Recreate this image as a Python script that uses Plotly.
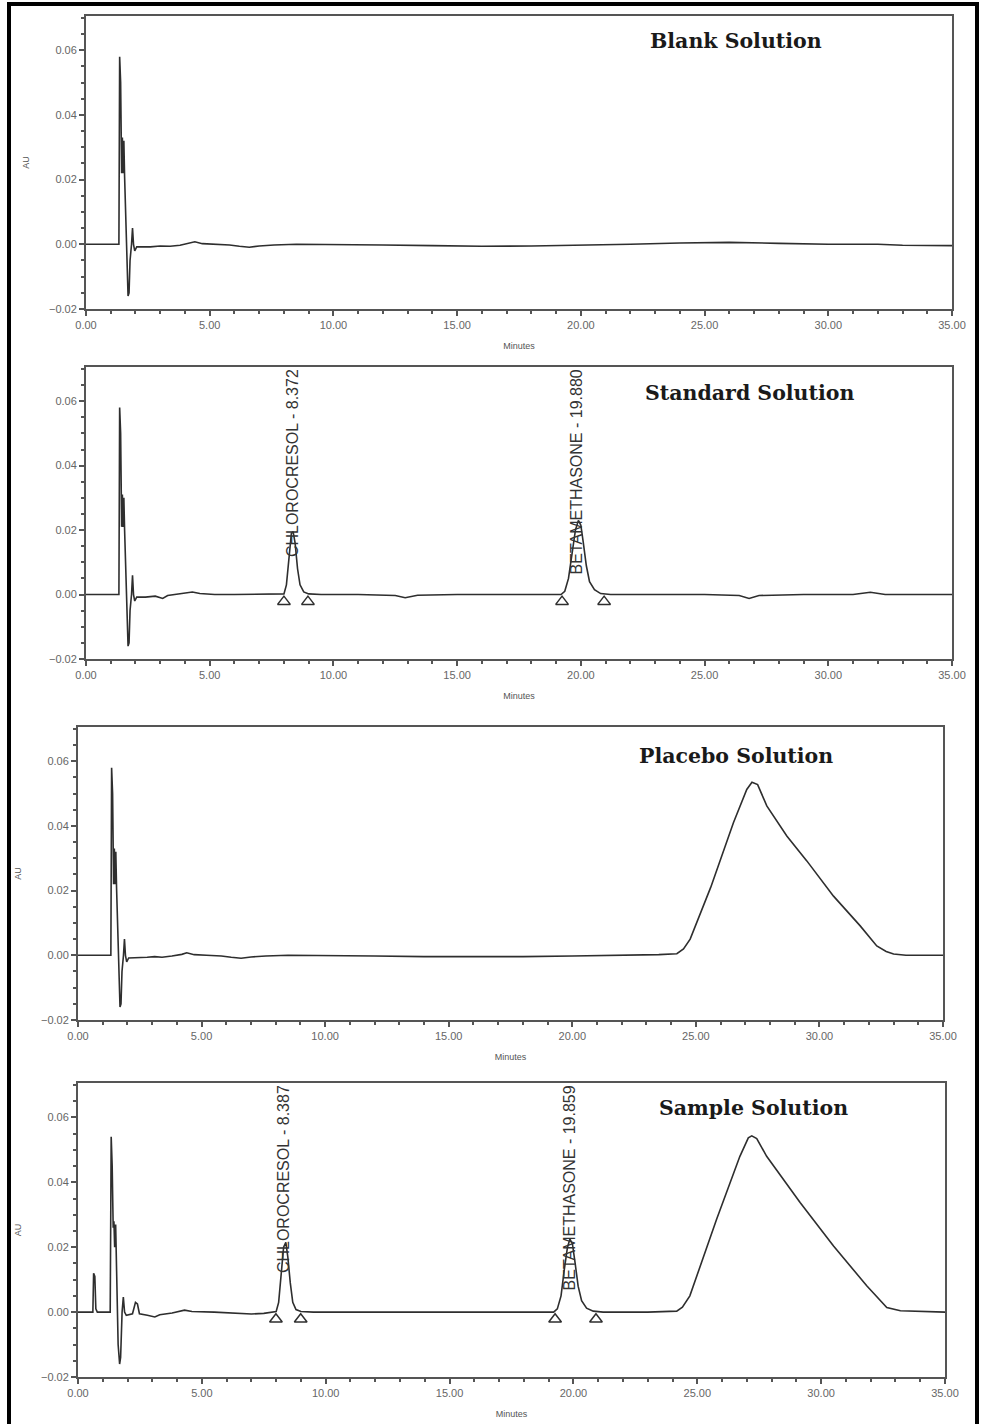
import plotly.graph_objects as go

# ---------------- data ----------------
panel_titles = ["Blank Solution", "Standard Solution", "Placebo Solution", "Sample Solution"]

# Blank solution chromatogram
blank_t = [0, 1.33, 1.36, 1.40, 1.44, 1.47, 1.50, 1.53, 1.56, 1.60, 1.66, 1.70, 1.74, 1.78, 1.84, 1.88,
           1.92, 1.97, 2.05, 2.3, 2.6, 3.0, 3.4, 3.8, 4.2, 4.4, 4.7, 5.2, 5.8, 6.2, 6.6, 7.0, 7.6, 8.5,
           10, 12, 14, 16, 18, 20, 22, 24, 26, 28, 30, 32, 33, 35]
blank_au = [0, 0, 0.058, 0.050, 0.022, 0.033, 0.022, 0.032, 0.021, 0.010, -0.012, -0.016, -0.015, -0.005,
            0.000, 0.005, 0.000, -0.002, -0.0008, -0.0009, -0.0008, -0.0005, -0.0006, -0.0003, 0.0003,
            0.0008, 0.0002, 0.0, -0.0002, -0.0006, -0.0009, -0.0005, -0.0002, 0.0,
            0.0, -0.0002, -0.0004, -0.0006, -0.0005, -0.0003, 0.0, 0.0004, 0.0006, 0.0003, 0.0, 0.0,
            -0.0003, -0.0004]

# Standard solution chromatogram
std_t = [0, 1.33, 1.36, 1.40, 1.44, 1.47, 1.50, 1.53, 1.56, 1.60, 1.66, 1.70, 1.74, 1.78, 1.84, 1.88,
         1.92, 1.97, 2.05, 2.4, 2.8, 3.1, 3.3, 3.6, 4.0, 4.3, 4.6, 5.2, 6.0, 7.0, 7.9,
         8.0, 8.1, 8.2, 8.3, 8.37, 8.45, 8.55, 8.65, 8.8, 9.0, 9.5, 11.0, 12.5, 12.9, 13.4, 15.0, 17.0,
         19.2, 19.35, 19.5, 19.65, 19.78, 19.9, 20.0, 20.1, 20.22, 20.35, 20.55, 20.8, 21.2,
         23.0, 25.0, 26.4, 26.8, 27.2, 29.0, 31.0, 31.7, 32.3, 35]
std_au = [0, 0, 0.058, 0.050, 0.021, 0.031, 0.021, 0.030, 0.020, 0.010, -0.012, -0.016, -0.015, -0.005,
          0.000, 0.006, 0.000, -0.002, -0.0008, -0.0008, -0.0005, -0.0012, -0.0003, 0.0, 0.0003, 0.0008,
          0.0003, 0.0, 0.0, 0.0, 0.0,
          0.0002, 0.003, 0.012, 0.019, 0.0195, 0.016, 0.008, 0.003, 0.0008, 0.0002, 0.0, 0.0, -0.0003,
          -0.001, -0.0002, 0.0, 0.0,
          0.0, 0.001, 0.005, 0.013, 0.020, 0.023, 0.0215, 0.016, 0.009, 0.004, 0.0015, 0.0003, 0.0,
          0.0, 0.0, -0.0003, -0.0012, -0.0003, 0.0, 0.0, 0.0007, 0.0, 0.0]

# Placebo solution chromatogram
pla_t = [0, 1.33, 1.36, 1.40, 1.44, 1.47, 1.50, 1.53, 1.56, 1.60, 1.66, 1.70, 1.74, 1.78, 1.84, 1.88,
         1.92, 1.97, 2.05, 2.4, 2.8, 3.1, 3.4, 3.8, 4.2, 4.4, 4.7, 5.2, 5.8, 6.2, 6.6, 7.0, 7.6, 8.5,
         10, 12, 14, 16, 18, 20, 22, 23.5, 24.23, 24.5, 24.77, 25.6, 26.52, 27.06, 27.27, 27.5, 27.87,
         28.68, 29.49, 30.57, 31.65, 32.32, 32.7, 33.0, 33.5, 35]
pla_au = [0, 0, 0.058, 0.050, 0.022, 0.033, 0.022, 0.032, 0.021, 0.010, -0.012, -0.016, -0.015, -0.005,
          0.000, 0.005, 0.000, -0.002, -0.0008, -0.0008, -0.0006, -0.0004, -0.0006, -0.0002, 0.0003,
          0.0008, 0.0002, 0.0, -0.0002, -0.0006, -0.0009, -0.0005, -0.0002, 0.0,
          0.0, -0.0002, -0.0004, -0.0005, -0.0004, -0.0002, 0.0, 0.0002, 0.0005, 0.002, 0.005, 0.021,
          0.041, 0.0513, 0.0535, 0.0528, 0.0462, 0.0369, 0.0292, 0.0183, 0.0091, 0.0029, 0.0012,
          0.0004, 0.0, 0.0]

# Sample solution chromatogram
smp_t = [0, 0.6, 0.63, 0.68, 0.72, 0.78, 1.30, 1.34, 1.38, 1.42, 1.45, 1.48, 1.52, 1.56, 1.62, 1.68,
         1.72, 1.78, 1.83, 1.88, 1.95, 2.2, 2.32, 2.4, 2.48, 2.8, 3.1, 3.3, 3.8, 4.3, 4.6, 5.5, 6.5,
         7.0, 7.5, 7.9, 8.0, 8.1, 8.2, 8.3, 8.39, 8.47, 8.57, 8.67, 8.8, 9.0, 9.5, 12.0, 15.0, 17.5,
         19.2, 19.35, 19.5, 19.63, 19.76, 19.86, 19.96, 20.07, 20.19, 20.33, 20.53, 20.8, 21.2, 23.0,
         24.17, 24.4, 24.7, 25.78, 26.72, 27.06, 27.2, 27.4, 27.8, 29.15, 30.5, 31.84, 32.65, 33.2, 35]
smp_au = [0, 0, 0.012, 0.011, 0.001, 0.0, 0.0, 0.054, 0.045, 0.026, 0.028, 0.020, 0.027, 0.012,
          -0.010, -0.016, -0.014, 0.000, 0.0046, 0.000, -0.001, -0.0005, 0.003, 0.0025, -0.0005,
          -0.001, -0.0015, -0.0008, -0.0003, 0.0006, 0.0002, 0.0, -0.0003, -0.0006, -0.0004, 0.0,
          0.0002, 0.003, 0.013, 0.020, 0.0215, 0.017, 0.009, 0.003, 0.0008, 0.0002, 0.0, 0.0, 0.0, 0.0,
          0.0, 0.001, 0.005, 0.013, 0.020, 0.0225, 0.021, 0.015, 0.008, 0.0035, 0.0012, 0.0003, 0.0, 0.0,
          0.0003, 0.0015, 0.005, 0.0286, 0.048, 0.0537, 0.0543, 0.0535, 0.048, 0.0338, 0.0204,
          0.0081, 0.0014, 0.0004, 0.0]

series_t = [blank_t, std_t, pla_t, smp_t]
series_au = [blank_au, std_au, pla_au, smp_au]

# Peak integration marks (start / end of each integrated peak)
std_marks_t = [8.0, 8.97, 19.24, 20.94]
smp_marks_t = [7.99, 8.99, 19.26, 20.91]
marks_au = [-0.0022, -0.0022, -0.0022, -0.0022]

# Peak labels
std_labels = ["CHLOROCRESOL - 8.372", "BETAMETHASONE - 19.880"]
std_label_t = [8.33, 19.84]
smp_labels = ["CHLOROCRESOL - 8.387", "BETAMETHASONE - 19.859"]
smp_label_t = [8.28, 19.86]

x_ticks = [0, 5, 10, 15, 20, 25, 30, 35]
y_ticks = [-0.02, 0.0, 0.02, 0.04, 0.06]

# ---------------- layout geometry ----------------
W, H = 981, 1424
px_boxes = [(86, 952, 16, 309), (86, 952, 367, 659), (78, 943, 727, 1020), (78, 945, 1083, 1377)]
title_pos = [(736, 41), (749, 393), (736, 756), (753, 1108)]
show_au = [True, False, True, True]

AXC = "#555555"
LINEC = "#2e2e2e"

fig = go.Figure()
layout = dict(width=W, height=H, margin=dict(l=0, r=0, t=0, b=0, pad=0, autoexpand=False),
              paper_bgcolor="white", plot_bgcolor="white", showlegend=False)
annotations = []

for i in range(4):
    n = "" if i == 0 else str(i + 1)
    x0, x1, y0, y1 = px_boxes[i]
    fig.add_trace(go.Scatter(x=series_t[i], y=series_au[i], mode="lines",
                             line=dict(color=LINEC, width=1.6),
                             xaxis="x" + n, yaxis="y" + n, hoverinfo="skip"))
    layout["xaxis" + n] = dict(
        domain=[x0 / W, x1 / W], anchor="y" + n, range=[0, 35], automargin=False,
        tickvals=x_ticks, tickformat=".2f", ticks="outside", ticklen=5, tickwidth=1.5,
        tickcolor=AXC, showline=True, linecolor=AXC, linewidth=2, mirror=True,
        showgrid=False, zeroline=False,
        tickfont=dict(family="Liberation Sans", size=11, color="#666"),
        minor=dict(dtick=1, ticks="outside", ticklen=3, tickcolor=AXC, showgrid=False),
        title=dict(text="Minutes", font=dict(family="Liberation Sans", size=9, color="#555"),
                   standoff=12),
    )
    layout["yaxis" + n] = dict(
        domain=[1 - y1 / H, 1 - y0 / H], anchor="x" + n, range=[-0.02, 0.0706], automargin=False,
        tickvals=y_ticks, tickformat=".2f", ticks="outside", ticklen=5, tickwidth=1.5,
        tickcolor=AXC, showline=True, linecolor=AXC, linewidth=2, mirror=True,
        showgrid=False, zeroline=False,
        tickfont=dict(family="Liberation Sans", size=11, color="#666"),
        minor=dict(dtick=0.005, tick0=0, ticks="outside", ticklen=3, tickcolor=AXC, showgrid=False),
        title=dict(text="AU" if show_au[i] else "",
                   font=dict(family="Liberation Sans", size=9, color="#555"), standoff=18),
    )
    tx, ty = title_pos[i]
    annotations.append(dict(text="<b>" + panel_titles[i] + "</b>", xref="paper", yref="paper",
                            x=tx / W, y=1 - ty / H, xanchor="center", yanchor="middle",
                            showarrow=False,
                            font=dict(family="DejaVu Serif", size=20.5, color="#1a1a1a")))

# peak marks and labels (standard = panel 2, sample = panel 4)
for n, mt, labs, lt in [("2", std_marks_t, std_labels, std_label_t),
                        ("4", smp_marks_t, smp_labels, smp_label_t)]:
    fig.add_trace(go.Scatter(x=mt, y=marks_au, mode="markers",
                             marker=dict(symbol="triangle-up-open", size=11,
                                         line=dict(color=LINEC, width=1.5), color=LINEC),
                             xaxis="x" + n, yaxis="y" + n, hoverinfo="skip"))
    for lab, t in zip(labs, lt):
        annotations.append(dict(text=lab, xref="x" + n, yref="y" + n + " domain", x=t, y=1.0,
                                xanchor="center", yanchor="top", textangle=-90, showarrow=False,
                                font=dict(family="Liberation Sans", size=16, color="#333")))

layout["annotations"] = annotations
layout["shapes"] = [dict(type="rect", xref="paper", yref="paper", x0=9 / W, x1=977 / W,
                         y0=-0.01, y1=1 - 4 / H, line=dict(color="black", width=4))]
fig.update_layout(**layout)
fig.write_html("out.html", config={"displayModeBar": False},
               post_script="document.body.style.margin='0';document.body.style.overflow='hidden';")
